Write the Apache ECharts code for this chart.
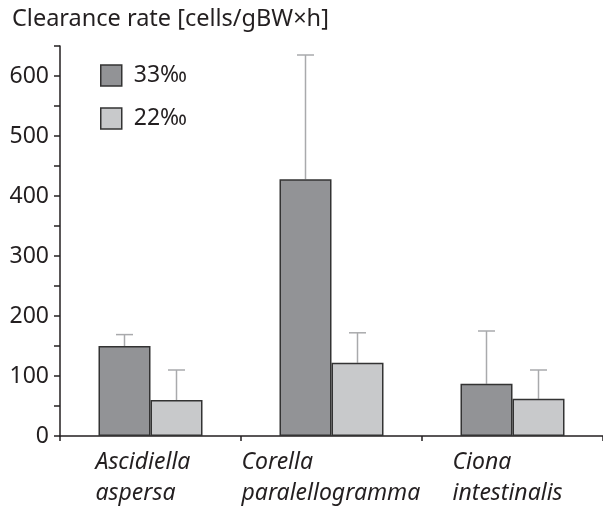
<!DOCTYPE html>
<html><head><meta charset="utf-8">
<script src="https://cdn.jsdelivr.net/npm/echarts@6/dist/echarts.min.js"></script>
<style>html,body{margin:0;padding:0;background:#fff}#c{width:603px;height:508px}</style>
</head><body><div id="c"></div>
<script>
const categories = ['Ascidiella\naspersa', 'Corella\nparalellogramma', 'Ciona\nintestinalis'];
const labelWidths = [110, 180, 120];
const seriesNames = ['33‰', '22‰'];
const values33 = [150, 428, 87];
const err33 = [169, 635, 175];
const values22 = [60, 122, 62];
const err22 = [110, 172, 110];
const yTicks = [0, 100, 200, 300, 400, 500, 600];

const FONT = 'Noto Sans';
const FS = 23;
const chart = echarts.init(document.getElementById('c'));
const rich = {};
labelWidths.forEach((w, i) => {
  rich['c' + i] = { width: w, align: 'left', fontStyle: 'italic', fontSize: FS, fontFamily: FONT, color: '#231f20', lineHeight: 31 };
});
function errSeries(name, vals, tops, offset) {
  return {
    type: 'custom', name: name + ' err', silent: true, z: 1,
    data: vals.map((v, i) => [i, v, tops[i]]),
    renderItem: function (params, api) {
      const base = api.coord([api.value(0), api.value(1)]);
      const top = api.coord([api.value(0), api.value(2)]);
      const x = base[0] + offset;
      const st = { stroke: '#a9aaac', lineWidth: 1.5 };
      return { type: 'group', children: [
        { type: 'line', shape: { x1: x, y1: base[1], x2: x, y2: top[1] }, style: st },
        { type: 'line', shape: { x1: x - 8.5, y1: top[1], x2: x + 8.5, y2: top[1] }, style: st }
      ]};
    }
  };
}
chart.setOption({
  animation: false,
  title: { text: 'Clearance rate [cells/gBW×h]', left: 7, top: 2,
    textStyle: { fontFamily: FONT, fontSize: FS + 0.5, fontWeight: 'normal', color: '#231f20' } },
  legend: {
    data: seriesNames, orient: 'vertical', left: 95, top: 59, itemWidth: 21, itemHeight: 21, itemGap: 20,
    icon: 'rect',
    itemStyle: { borderColor: '#333', borderWidth: 1.5 },
    textStyle: { fontFamily: FONT, fontSize: FS, color: '#231f20', padding: [0, 0, 0, 7] }
  },
  grid: { left: 60, right: 0, top: 46, bottom: 72, containLabel: false },
  xAxis: {
    type: 'category', data: categories,
    axisLine: { lineStyle: { color: '#231f20', width: 1.5 } },
    axisTick: { show: true, length: 5, lineStyle: { color: '#231f20', width: 1.5 } },
    axisLabel: {
      margin: 11, interval: 0,
      formatter: function (v, i) { return v.split('\n').map(s => '{c' + i + '|' + s + '}').join('\n'); },
      rich: rich
    }
  },
  yAxis: {
    type: 'value', min: 0, max: 650, interval: 50,
    splitLine: { show: false },
    axisLine: { show: true, lineStyle: { color: '#231f20', width: 1.5 } },
    axisTick: { show: true, length: 6, lineStyle: { color: '#231f20', width: 1.5 } },
    axisLabel: {
      margin: 11, fontFamily: FONT, fontSize: FS, color: '#231f20',
      formatter: function (v) { return yTicks.indexOf(v) >= 0 ? String(v) : ''; }
    }
  },
  series: [
    { type: 'bar', name: seriesNames[0], data: values33, barWidth: 52, barGap: '0%', z: 2,
      itemStyle: { color: '#929396', borderColor: '#333', borderWidth: 1.5 } },
    { type: 'bar', name: seriesNames[1], data: values22, barWidth: 52, barGap: '0%', z: 2,
      itemStyle: { color: '#c8c9cb', borderColor: '#333', borderWidth: 1.5 } },
    errSeries(seriesNames[0], values33, err33, -26),
    errSeries(seriesNames[1], values22, err22, 26)
  ]
});
</script></body></html>
